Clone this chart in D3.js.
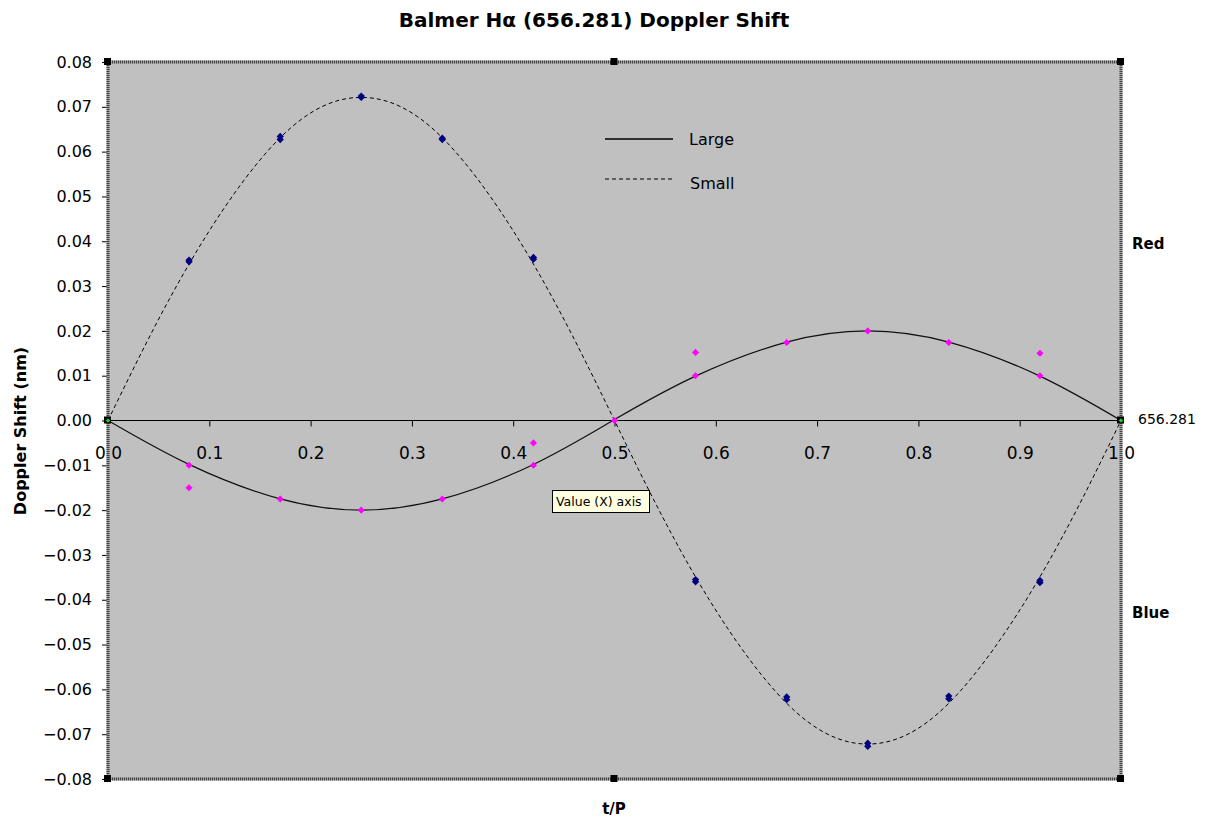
<!DOCTYPE html>
<html>
<head>
<meta charset="utf-8">
<script src="https://d3js.org/d3.v7.min.js"></script>
<style>
  body { margin: 0; background: #fff; }
  text { font-family: "DejaVu Sans", sans-serif; fill: #000; }
  .lbl { font-size: 16px; }
  .xl { font-size: 17px; }
  .bold { font-weight: bold; }
</style>
</head>
<body>
<svg width="1206" height="820"></svg>
<script>
// fitted curves, read at the observation phases
var phase = [0, 0.08, 0.17, 0.25, 0.33, 0.42, 0.5, 0.58, 0.67, 0.75, 0.83, 0.92, 1.0];
var smallFit = [0, 0.0349, 0.0631, 0.0721, 0.0631, 0.0349, 0, -0.0349, -0.0631, -0.0722, -0.0631, -0.0349, 0];
var largeFit = [0, -0.0098, -0.0175, -0.0200, -0.0175, -0.0098, 0.0002, 0.0099, 0.0175, 0.0200, 0.0175, 0.0099, 0];

// observed points
var obsT = [0.08, 0.17, 0.25, 0.33, 0.42, 0.58, 0.67, 0.75, 0.83, 0.92];
var smallObsA = [0.0358, 0.0634, 0.0724, 0.0630, 0.0364, -0.0355, -0.0617, -0.0720, -0.0615, -0.0357];
var smallObsB = [0.0354, 0.0627, 0.0721, 0.0627, 0.0360, -0.0360, -0.0623, -0.0727, -0.0621, -0.0362];
var largeT = [0.08, 0.08, 0.17, 0.25, 0.33, 0.42, 0.42, 0.5, 0.58, 0.58, 0.67, 0.75, 0.83, 0.92, 0.92];
var largeObs = [-0.0100, -0.0150, -0.0175, -0.0200, -0.0175, -0.0050, -0.0100, 0, 0.0152, 0.0100, 0.0174, 0.0200, 0.0174, 0.0150, 0.0100];

var xTicks = [0, 0.1, 0.2, 0.3, 0.4, 0.5, 0.6, 0.7, 0.8, 0.9, 1.0];
var yTicks = d3.range(-8, 9).map(function(i) { return i / 100; });

var svg = d3.select("svg");
var pL = 108, pR = 1121, pT = 62, pB = 779;

var x = d3.scaleLinear().domain([0, 1]).range([pL, pR]);
var y = d3.scaleLinear().domain([-0.08, 0.08]).range([pB, pT]);

svg.append("rect")
  .attr("x", pL).attr("y", pT)
  .attr("width", pR - pL).attr("height", pB - pT)
  .attr("fill", "#c0c0c0");

// y axis (ticks + labels)
var yAxis = svg.append("g")
  .attr("transform", "translate(" + pL + ",0)")
  .call(d3.axisLeft(y).tickValues(yTicks).tickSize(6).tickPadding(10).tickFormat(d3.format(".2f")));
yAxis.select(".domain").remove();
yAxis.selectAll("text").attr("class", "lbl").attr("font-family", null).attr("font-size", null).attr("fill", null);

// x axis along zero
var xAxis = svg.append("g")
  .attr("transform", "translate(0," + y(0) + ")")
  .call(d3.axisBottom(x).tickValues(xTicks).tickSize(6).tickPadding(20).tickFormat(d3.format(".1f")));
xAxis.select(".domain").attr("d", "M" + pL + ",0H" + pR).attr("stroke", "#000");
xAxis.selectAll("text").attr("class", "xl").attr("font-family", null).attr("font-size", null).attr("fill", null);

// fitted curves
var line = d3.line()
  .x(function(d, i) { return x(phase[i]); })
  .y(function(d) { return y(d); })
  .curve(d3.curveNatural);

svg.append("path").datum(smallFit)
  .attr("d", line).attr("fill", "none")
  .attr("stroke", "#000").attr("stroke-width", 1).attr("stroke-dasharray", "4,3");
svg.append("path").datum(largeFit)
  .attr("d", line).attr("fill", "none")
  .attr("stroke", "#111").attr("stroke-width", 1.2);

// markers
var diamond = d3.symbol().type(d3.symbolDiamond2);
function markers(ts, vs, color, size) {
  svg.append("g").selectAll("path")
    .data(vs).enter().append("path")
    .attr("d", diamond.size(size))
    .attr("transform", function(d, i) { return "translate(" + x(ts[i]) + "," + y(d) + ")"; })
    .attr("fill", color);
}
markers(obsT, smallObsA, "#000080", 34);
markers(obsT, smallObsB, "#000080", 34);
markers(largeT, largeObs, "#ff00ff", 32);

// plot border (selected look)
svg.append("rect")
  .attr("x", pL).attr("y", pT)
  .attr("width", pR - pL).attr("height", pB - pT)
  .attr("fill", "none").attr("stroke", "#a0a0a0").attr("stroke-width", 3);
svg.append("rect")
  .attr("x", pL).attr("y", pT)
  .attr("width", pR - pL).attr("height", pB - pT)
  .attr("fill", "none").attr("stroke", "#444").attr("stroke-width", 3).attr("stroke-dasharray", "1,1");

// selection handles
var handles = [[pL, pT], [(pL + pR) / 2, pT], [pR, pT],
               [pL, pB], [(pL + pR) / 2, pB], [pR, pB],
               [pL, y(0)], [pR, y(0)]];
svg.append("g").selectAll("rect").data(handles).enter().append("rect")
  .attr("x", function(d) { return d[0] - 4; })
  .attr("y", function(d) { return d[1] - 4; })
  .attr("width", 7).attr("height", 7)
  .attr("fill", "#000");
svg.append("g").selectAll("path").data([[pL, y(0)], [pR, y(0)]]).enter().append("path")
  .attr("d", diamond.size(14))
  .attr("transform", function(d) { return "translate(" + d[0] + "," + d[1] + ")"; })
  .attr("fill", "#22cc22");

// legend
svg.append("line").attr("x1", 605).attr("x2", 673).attr("y1", 139).attr("y2", 139)
  .attr("stroke", "#000").attr("stroke-width", 1.5);
svg.append("line").attr("x1", 605).attr("x2", 673).attr("y1", 179).attr("y2", 179)
  .attr("stroke", "#000").attr("stroke-width", 1).attr("stroke-dasharray", "4,3");
svg.append("text").attr("x", 689).attr("y", 145).attr("font-size", 16).text("Large");
svg.append("text").attr("x", 690).attr("y", 189).attr("font-size", 16).text("Small");

// titles
svg.append("text").attr("class", "bold").attr("x", 594).attr("y", 27)
  .attr("text-anchor", "middle").attr("font-size", 20).text("Balmer H\u03b1 (656.281) Doppler Shift");
svg.append("text").attr("class", "bold").attr("x", 614).attr("y", 814)
  .attr("text-anchor", "middle").attr("font-size", 15).text("t/P");
svg.append("text").attr("class", "bold")
  .attr("transform", "translate(26,431) rotate(-90)")
  .attr("text-anchor", "middle").attr("font-size", 16).text("Doppler Shift (nm)");
svg.append("text").attr("class", "bold").attr("x", 1132).attr("y", 249).attr("font-size", 15).text("Red");
svg.append("text").attr("class", "bold").attr("x", 1132).attr("y", 618).attr("font-size", 15).text("Blue");
svg.append("text").attr("x", 1138).attr("y", 424).attr("font-size", 14).text("656.281");

// tooltip
svg.append("rect").attr("x", 552.5).attr("y", 490.5).attr("width", 97).attr("height", 22)
  .attr("fill", "#ffffe1").attr("stroke", "#000").attr("stroke-width", 1);
svg.append("text").attr("x", 556).attr("y", 506).attr("font-size", 12.5).text("Value (X) axis");
</script>
</body>
</html>
